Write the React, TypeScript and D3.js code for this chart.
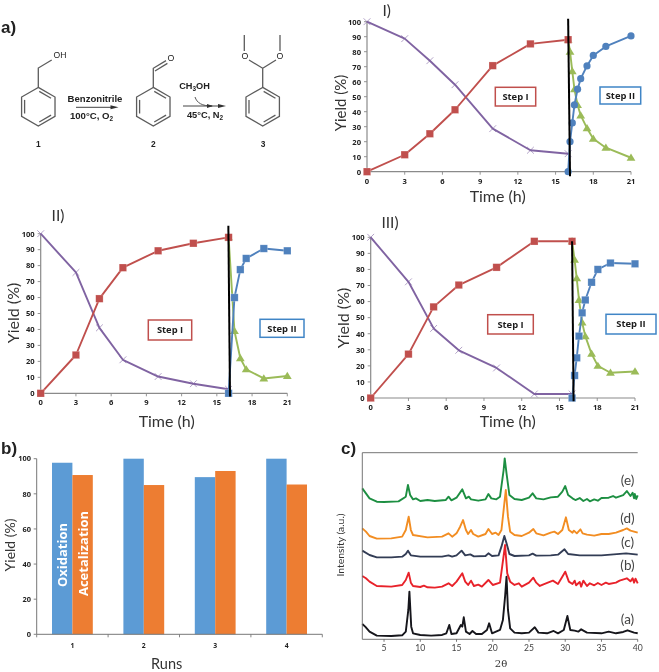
import React from "react";
import * as d3 from "d3";

type Pt = [number, number];

// ---------- Time-course data ----------
const step1Hours = [0, 3, 5, 7, 10, 13, 16];
const hourTicks = [0, 3, 6, 9, 12, 15, 18, 21];
const yieldTicks = [0, 10, 20, 30, 40, 50, 60, 70, 80, 90, 100];

const p1Product = [0, 11.3, 25.3, 41.3, 70.7, 85.2, 88];
const p1Reactant = [100, 88.7, 74, 58, 28.7, 14.3, 12];
const p1Step2Hours = [16, 16.15, 16.33, 16.5, 16.75, 17, 17.5, 18, 19, 21];
const p1Acetal = [0, 20, 32.5, 44.5, 55, 62, 70.5, 77.5, 83.5, 90.5];
const p1Aldehyde = [88, 80, 67, 55, 44.5, 37.5, 29, 22, 16, 9.3];

const p2Product = [0, 24, 59.3, 78.7, 89.3, 94, 97.7];
const p2Reactant = [100, 75.7, 41, 21, 10.5, 6, 2.5];
const p2Step2Hours = [16, 16.5, 17, 17.5, 19, 21];
const p2Acetal = [0, 60, 77.5, 84.5, 90.7, 89.3];
const p2Aldehyde = [97.7, 39, 22, 15, 9.3, 10.8];

const p3Product = [0, 27.3, 56.7, 70.3, 81.3, 97.5, 97.5];
const p3Reactant = [100, 72.3, 43.3, 29.7, 18.7, 2.5, 2.5];
const p3Step2Hours = [16, 16.2, 16.37, 16.55, 16.8, 17.05, 17.55, 18.05, 19.05, 21];
const p3Acetal = [0, 14, 25, 38.5, 53, 61, 72, 80, 84, 83.5];
const p3Aldehyde = [97.5, 86, 74.5, 61, 47, 38.5, 27.5, 20, 15.7, 16.5];

// ---------- Recycling bars ----------
const runs = ["1", "2", "3", "4"];
const oxidation = [97.7, 100, 89.5, 100];
const acetalization = [90.7, 85, 93, 85.3];
const barTicks = [0, 20, 40, 60, 80, 100];

// ---------- XRD traces (2-theta, stacked intensity) ----------
const xrdA: Pt[] = [[2,46],[2.4,38],[3,23],[4,11],[6,10],[7.5,12],[8,23],[8.35,88],[8.5,143],[8.75,38],[9,18],[10,13],[11.5,11],[13,13],[13.6,18],[14,43],[14.3,16],[15,18],[15.6,43],[15.8,38],[16,66],[16.3,23],[16.8,16],[17.2,25],[17.7,16],[18.5,16],[19.2,28],[19.5,48],[19.9,18],[21,28],[21.4,58],[21.7,128],[21.9,188],[22.1,88],[22.4,33],[23,20],[24,18],[25,20],[25.8,36],[26.3,20],[27.5,18],[28.4,25],[29,18],[29.8,28],[30.3,70],[30.7,28],[31.3,26],[31.8,23],[32.2,30],[33,20],[35,18],[36,23],[37,18],[38,22],[38.6,27],[39.5,20],[40,18]];
const xrdB: Pt[] = [[2,190],[2.5,183],[3,173],[4,160],[6,158],[7.5,163],[8,178],[8.4,200],[8.7,170],[9,160],[10,157],[10.5,161],[11,156],[12,155],[13,158],[13.9,168],[14.4,160],[15,173],[15.8,198],[16.2,173],[16.6,163],[17,176],[17.4,160],[18,164],[18.5,158],[19.4,178],[20,163],[21,170],[21.3,218],[21.7,283],[22,198],[22.4,173],[23,163],[23.6,168],[24,158],[25,170],[25.6,185],[26,170],[26.5,160],[27,165],[27.6,170],[28.3,176],[29,166],[29.6,188],[30,203],[30.5,173],[31,166],[31.3,176],[31.5,162],[32,172],[32.2,158],[32.5,176],[33,160],[33.4,168],[34,162],[34.5,169],[35,163],[35.6,170],[36,166],[37,170],[37.5,176],[38.5,183],[39,174],[39.3,183],[39.5,170],[39.7,182],[40,168]];
const xrdC: Pt[] = [[2,266],[3,253],[4,246],[6,246],[7.5,248],[8,256],[8.3,266],[8.7,252],[10,248],[13,248],[13.9,252],[14.4,248],[15,252],[15.7,266],[16.2,252],[16.9,255],[17.4,249],[19,250],[19.4,258],[19.9,250],[20.8,252],[21.2,278],[21.6,310],[21.9,288],[22.3,256],[23,250],[25,252],[25.5,257],[26,251],[28,252],[29,254],[29.9,270],[30.4,256],[32,252],[35,252],[38.4,258],[40,254]];
const xrdD: Pt[] = [[2,333],[2.5,323],[3,310],[4,302],[6,303],[7.5,308],[8,328],[8.4,368],[8.7,328],[9,313],[11,306],[13,308],[13.9,318],[14.4,308],[15,318],[15.5,338],[15.9,358],[16.3,328],[16.6,316],[17,328],[17.3,316],[18,308],[19,316],[19.4,331],[19.9,316],[20.4,320],[20.8,313],[21.2,328],[21.5,388],[21.8,448],[22.1,368],[22.4,323],[23,313],[24,310],[25,320],[25.6,331],[26,318],[27,312],[28,320],[28.5,323],[29,316],[29.6,328],[30.1,366],[30.5,328],[31,320],[31.2,326],[31.6,318],[32.1,330],[32.4,318],[33,314],[34,311],[35,316],[36,316],[37,320],[38,328],[38.5,333],[39,326],[39.5,323],[40,320]];
const xrdE: Pt[] = [[2,453],[3,423],[4,413],[5,412],[7,414],[8,428],[8.3,463],[8.6,433],[9,420],[9.4,423],[10,415],[11,418],[12,415],[13.5,418],[13.9,428],[14.3,417],[15,425],[15.8,450],[16.3,423],[16.7,428],[17,420],[18,416],[19,420],[19.4,436],[19.8,423],[20.5,420],[21,428],[21.5,508],[21.65,543],[21.9,498],[22.3,433],[23,421],[24,418],[25,425],[25.5,438],[26,423],[27,420],[28,426],[29,428],[29.6,443],[30,460],[30.4,433],[31,423],[31.4,418],[32,424],[32.5,415],[33,421],[33.4,414],[34,420],[34.5,416],[35,424],[36,425],[36.6,430],[37,425],[38,433],[38.5,445],[39,430],[39.3,440],[39.5,423],[39.6,436],[39.8,421],[40,432]];

const xrdTraces = [
  { label: "(a)", color: "#15151a", values: xrdA, labelAt: 58 },
  { label: "(b)", color: "#e8232b", values: xrdB, labelAt: 220 },
  { label: "(c)", color: "#333c55", values: xrdC, labelAt: 288 },
  { label: "(d)", color: "#f28d22", values: xrdD, labelAt: 360 },
  { label: "(e)", color: "#1f8f42", values: xrdE, labelAt: 475 },
];
const xrdOrder = [xrdTraces[4], xrdTraces[3], xrdTraces[2], xrdTraces[0], xrdTraces[1]];
const thetaTicks = [5, 10, 15, 20, 25, 30, 35, 40];

const RED = "#c0504d";
const PURPLE = "#8064a2";
const GREEN = "#9bbb59";
const BLUE = "#4f81bd";
const AXIS = "#8a8a8a";
const SANS = "Lato, 'Open Sans', sans-serif";
const TICKFONT = "'Open Sans', sans-serif";

function Marker({ x, y, kind, color }: { x: number; y: number; kind: string; color: string }) {
  if (kind === "square") return <rect x={x - 3.7} y={y - 3.7} width={7.4} height={7.4} fill={color} stroke="#fff" strokeOpacity={0.35} strokeWidth={0.6} />;
  if (kind === "circle") return <circle cx={x} cy={y} r={3.6} fill={color} />;
  if (kind === "triangle") return <path d={`M${x},${y - 4.2}L${x + 4.4},${y + 3}L${x - 4.4},${y + 3}Z`} fill={color} />;
  return <path d={`M${x - 3.4},${y - 3.4}L${x + 3.4},${y + 3.4}M${x - 3.4},${y + 3.4}L${x + 3.4},${y - 3.4}`} stroke={color} strokeOpacity={0.75} strokeWidth={0.8} fill="none" />;
}

function Series({ xs, ys, x, y, color, kind }: any) {
  const line = d3.line<number>().x((_, i) => x(xs[i])).y((d) => y(d));
  return (
    <g>
      <path d={line(ys) || ""} fill="none" stroke={color} strokeWidth={1.9} strokeLinejoin="round" />
      {ys.map((v: number, i: number) => (
        <Marker key={i} x={x(xs[i])} y={y(v)} kind={kind} color={color} />
      ))}
    </g>
  );
}

function StepBox({ x0, y0, x1, y1, color, label }: any) {
  return (
    <g>
      <rect x={x0} y={y0} width={x1 - x0} height={y1 - y0} fill="#fff" stroke={color} strokeWidth={1.5} />
      <text x={(x0 + x1) / 2} y={(y0 + y1) / 2 + 3.2} fontSize={9.4} fontWeight={700} fontFamily={TICKFONT} textAnchor="middle" fill="#1c1c1c">{label}</text>
    </g>
  );
}

function TimePanel(p: any) {
  const x = d3.scaleLinear().domain([0, 21]).range(p.xr);
  const y = d3.scaleLinear().domain([0, 100]).range(p.yr);
  return (
    <g>
      <line x1={x(0)} x2={x(21)} y1={y(0)} y2={y(0)} stroke={AXIS} strokeWidth={1.2} />
      <line x1={x(0)} x2={x(0)} y1={y(0)} y2={y(100)} stroke={AXIS} strokeWidth={1.2} />
      {hourTicks.map((t) => (
        <g key={t}>
          <line x1={x(t)} x2={x(t)} y1={y(0)} y2={y(0) + 3} stroke={AXIS} strokeWidth={0.9} />
          <text x={x(t)} y={y(0) + 12} fontSize={7.6} fontWeight={700} fontFamily={TICKFONT} textAnchor="middle" fill="#222">{t}</text>
        </g>
      ))}
      {yieldTicks.map((t) => (
        <g key={t}>
          <line x1={x(0) - 3} x2={x(0)} y1={y(t)} y2={y(t)} stroke={AXIS} strokeWidth={0.9} />
          <text x={x(0) - 6} y={y(t) + 2.8} fontSize={7.6} fontWeight={700} fontFamily={TICKFONT} textAnchor="end" fill="#222">{t}</text>
        </g>
      ))}
      <Series xs={step1Hours} ys={p.reactant} x={x} y={y} color={PURPLE} kind="x" />
      <Series xs={p.s2} ys={p.aldehyde} x={x} y={y} color={GREEN} kind="triangle" />
      <Series xs={p.s2} ys={p.acetal} x={x} y={y} color={BLUE} kind={p.acetalMarker} />
      <Series xs={step1Hours} ys={p.product} x={x} y={y} color={RED} kind="square" />
      <line x1={x(p.bar[0])} y1={y(p.bar[1])} x2={x(p.bar[2])} y2={y(p.bar[3])} stroke="#000" strokeWidth={2} />
      <StepBox {...p.box1} color={RED} label="Step I" />
      <StepBox {...p.box2} color="#3f85c6" label="Step II" />
      <text transform={`translate(${p.yl[0]},${p.yl[1]}) rotate(-90)`} fontSize={p.ylSize} fontFamily={SANS} textAnchor="middle" fill="#333">Yield (%)</text>
      <text x={p.tl[0]} y={p.tl[1]} fontSize={16} fontFamily={SANS} textAnchor="middle" fill="#333">Time (h)</text>
      <text x={p.name[0]} y={p.name[1]} fontSize={15.5} fontFamily={SANS} textAnchor="middle" fill="#333">{p.title}</text>
    </g>
  );
}

function Ring({ cx, cy, r = 19.3 }: { cx: number; cy: number; r?: number }) {
  const pts = d3.range(6).map((i) => {
    const a = -Math.PI / 2 + (i * Math.PI) / 3;
    return [cx + r * Math.cos(a), cy + r * Math.sin(a)];
  });
  const inner = [0, 2, 4].map((i) => {
    const a = pts[i], b = pts[(i + 1) % 6];
    const s = 0.82, ins = 0.14;
    const m = [(a[0] + b[0]) / 2, (a[1] + b[1]) / 2];
    const q = (t: number[]) => [cx + (t[0] - cx) * s, cy + (t[1] - cy) * s];
    return { a: q([a[0] + (m[0] - a[0]) * ins, a[1] + (m[1] - a[1]) * ins]), b: q([b[0] + (m[0] - b[0]) * ins, b[1] + (m[1] - b[1]) * ins]) };
  });
  return (
    <g stroke="#5c5c5c" strokeWidth={1.3} fill="none">
      <path d={`M${pts.map((p) => p.join(",")).join("L")}Z`} />
      {inner.map((s, i) => (
        <line key={i} x1={s.a[0]} y1={s.a[1]} x2={s.b[0]} y2={s.b[1]} />
      ))}
    </g>
  );
}

function Scheme() {
  const t = (x: number, y: number, s: string | React.ReactNode, size = 8.6, bold = true, anchor = "middle") => (
    <text x={x} y={y} fontSize={size} fontWeight={bold ? 700 : 400} fontFamily="'Liberation Sans', sans-serif" textAnchor={anchor as any} fill="#222">{s}</text>
  );
  const sub = (d: string) => <tspan dy={2} fontSize={6.4}>{d}</tspan>;
  return (
    <g>
      <Ring cx={38.3} cy={106.7} />
      <path d="M38.3,87.4V68L51.7,60" stroke="#5c5c5c" strokeWidth={1.3} fill="none" />
      {t(60, 58, "OH", 8.6, false)}
      {t(38.3, 147, "1", 8.4)}

      <Ring cx={153.3} cy={106.7} />
      <path d="M153.3,87.4V68.3L166,60.6M155,71L167.4,63.4" stroke="#5c5c5c" strokeWidth={1.3} fill="none" />
      {t(171, 60.5, "O", 8.8, false)}
      {t(153.3, 147, "2", 8.4)}

      <Ring cx={262.7} cy={106.7} />
      <path d="M262.7,87.4V68.3L249,60M262.7,68.3L276,60M244.3,51V35M280,51V35" stroke="#5c5c5c" strokeWidth={1.3} fill="none" />
      {t(245, 59, "O", 8.8, false)}
      {t(280, 59, "O", 8.8, false)}
      {t(263, 147, "3", 8.4)}

      {t(95, 102, "Benzonitrile", 9.6)}
      <line x1={76} x2={114} y1={107.3} y2={107.3} stroke="#444" strokeWidth={1} />
      <path d="M118.5,107.3L110.5,105.3V109.3Z" fill="#333" />
      {t(91.5, 118.5, <>100°C, O{sub("2")}</>, 9.6)}

      {t(194.5, 89, <>CH{sub("3")}<tspan dy={-2}>OH</tspan></>, 9.2)}
      <line x1={183} x2={222} y1={106} y2={106} stroke="#444" strokeWidth={1} />
      <path d="M226,106L218,104V108Z" fill="#333" />
      <path d="M195,97C197,103 202,106 212,106" fill="none" stroke="#444" strokeWidth={0.9} />
      <path d="M213,106L207,104V108Z" fill="#333" />
      {t(205, 118, <>45°C, N{sub("2")}</>, 9.3)}

      <text x={1} y={33} fontSize={17} fontWeight={700} fontFamily="'Liberation Sans', sans-serif" fill="#222">a)</text>
    </g>
  );
}

function BarPanel() {
  const x = d3.scaleBand().domain(runs).range([36.7, 322.3]);
  const y = d3.scaleLinear().domain([0, 100]).range([634.3, 458.7]);
  const bw = 20.4;
  return (
    <g>
      {runs.map((r, i) => {
        const c = (x(r) as number) + x.bandwidth() / 2;
        return (
          <g key={r}>
            <rect x={c - bw} y={y(oxidation[i])} width={bw} height={y(0) - y(oxidation[i])} fill="#5b9bd5" />
            <rect x={c} y={y(acetalization[i])} width={bw} height={y(0) - y(acetalization[i])} fill="#ed7d31" />
            <text x={c} y={648} fontSize={6.8} fontWeight={700} fontFamily={TICKFONT} textAnchor="middle" fill="#222">{r}</text>
          </g>
        );
      })}
      <line x1={36.7} x2={322.3} y1={y(0)} y2={y(0)} stroke="#777" strokeWidth={1} />
      <line x1={36.7} x2={36.7} y1={y(0)} y2={y(100)} stroke="#777" strokeWidth={1} />
      {[...runs.map((r) => x(r) as number), 322.3].map((v, i) => (
        <line key={i} x1={v} x2={v} y1={y(0)} y2={y(0) + 3} stroke="#777" strokeWidth={0.9} />
      ))}
      {barTicks.map((t) => (
        <g key={t}>
          <line x1={33.7} x2={36.7} y1={y(t)} y2={y(t)} stroke="#777" strokeWidth={0.9} />
          <text x={31} y={y(t) + 2.7} fontSize={7.4} fontWeight={700} fontFamily={TICKFONT} textAnchor="end" fill="#222">{t}</text>
        </g>
      ))}
      <text transform="translate(66.5,555) rotate(-90)" fontSize={13} fontWeight={700} fontFamily={TICKFONT} textAnchor="middle" fill="#fff">Oxidation</text>
      <text transform="translate(87.5,553.5) rotate(-90)" fontSize={13} fontWeight={700} fontFamily={TICKFONT} textAnchor="middle" fill="#fff">Acetalization</text>
      <text transform="translate(14.5,545) rotate(-90)" fontSize={14} fontFamily={SANS} textAnchor="middle" fill="#333">Yield (%)</text>
      <text x={166.7} y={669} fontSize={14.5} fontFamily={SANS} textAnchor="middle" fill="#333">Runs</text>
      <text x={1} y={454} fontSize={17} fontWeight={700} fontFamily="'Liberation Sans', sans-serif" fill="#222">b)</text>
    </g>
  );
}

function XrdPanel() {
  const x = d3.scaleLinear().domain([2, 40]).range([362.3, 637.7]);
  const y = d3.scaleLinear().domain([0, 560]).range([639.3, 452.7]);
  const line = d3.line<Pt>().x((d) => x(d[0])).y((d) => y(d[1]));
  return (
    <g>
      {xrdOrder.map((t) => (
        <path key={t.label} d={line(t.values) || ""} fill="none" stroke={t.color} strokeWidth={1.9} strokeLinejoin="round" />
      ))}
      <path d={`M${x(40)},${y(0)}H${x(2)}V${y(560)}H${x(40)}`} fill="none" stroke="#666" strokeWidth={0.9} />
      {thetaTicks.map((t) => (
        <g key={t}>
          <line x1={x(t)} x2={x(t)} y1={y(0)} y2={y(0) + 2.5} stroke="#555" strokeWidth={0.8} />
          <text x={x(t)} y={651} fontSize={8.6} fontFamily={SANS} textAnchor="middle" fill="#444">{t}</text>
        </g>
      ))}
      {xrdTraces.map((t) => (
        <text key={t.label} x={627.5} y={y(t.labelAt) + 4} fontSize={13.5} fontFamily={SANS} textAnchor="middle" fill="#444">{t.label}</text>
      ))}
      <text transform="translate(344,545) rotate(-90)" fontSize={10.4} fontFamily={SANS} textAnchor="middle" fill="#333">Intensity (a.u.)</text>
      <text x={501} y={667} fontSize={10} fontFamily="'DejaVu Serif', serif" textAnchor="middle" fill="#333">2θ</text>
      <text x={341} y={454} fontSize={17} fontWeight={700} fontFamily="'Liberation Sans', sans-serif" fill="#222">c)</text>
    </g>
  );
}

export default function App() {
  return (
    <svg width={659} height={672} style={{ position: "absolute", left: 0, top: 0, background: "#fff" }}>
      <defs>
        <filter id="soft" x="0" y="0" width="100%" height="100%">
          <feGaussianBlur stdDeviation={0.35} />
        </filter>
      </defs>
      <g filter="url(#soft)">
        <rect width={659} height={672} fill="#fff" />
        <Scheme />
        <TimePanel title="I)" xr={[367, 631]} yr={[171.7, 21.7]} product={p1Product} reactant={p1Reactant} s2={p1Step2Hours} acetal={p1Acetal} aldehyde={p1Aldehyde} acetalMarker="circle"
          bar={[16.0, 102, 16.15, -3]} box1={{ x0: 495.3, y0: 87.3, x1: 535.7, y1: 106 }} box2={{ x0: 600, y0: 87, x1: 640.7, y1: 104 }}
          yl={[346, 103]} ylSize={15} tl={[497.7, 202]} name={[386.7, 15.5]} />
        <TimePanel title="II)" xr={[40.7, 287.3]} yr={[393.3, 233.7]} product={p2Product} reactant={p2Reactant} s2={p2Step2Hours} acetal={p2Acetal} aldehyde={p2Aldehyde} acetalMarker="square"
          bar={[15.98, 105, 16.12, -2]} box1={{ x0: 148.3, y0: 320, x1: 191.7, y1: 340 }} box2={{ x0: 260, y0: 319.3, x1: 304, y1: 337.3 }}
          yl={[19, 313]} ylSize={16} tl={[166.7, 427]} name={[58, 221]} />
        <TimePanel title="III)" xr={[370.7, 635]} yr={[398, 237.3]} product={p3Product} reactant={p3Reactant} s2={p3Step2Hours} acetal={p3Acetal} aldehyde={p3Aldehyde} acetalMarker="square"
          bar={[16.0, 97.5, 16.12, -2]} box1={{ x0: 487.7, y0: 314.7, x1: 533.3, y1: 334 }} box2={{ x0: 606, y0: 314.3, x1: 656, y1: 334 }}
          yl={[349, 318]} ylSize={16} tl={[507.7, 427]} name={[390, 228]} />
        <BarPanel />
        <XrdPanel />
      </g>
    </svg>
  );
}
